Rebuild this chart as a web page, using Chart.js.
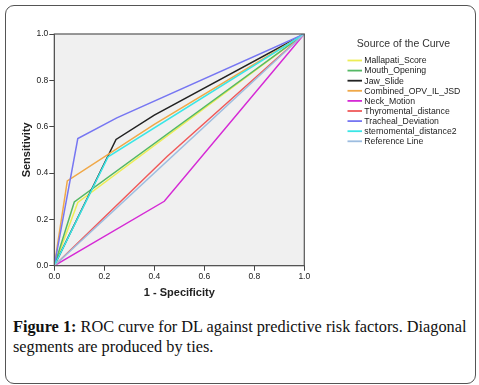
<!DOCTYPE html>
<html>
<head>
<meta charset="utf-8">
<script src="https://cdn.jsdelivr.net/npm/chart.js@4.4.1/dist/chart.umd.min.js"></script>
<style>
  html, body { margin: 0; padding: 0; background: #fff; width: 479px; height: 385px; overflow: hidden; }
  #frame { position: absolute; left: 5px; top: 5px; width: 471px; height: 379px; border: 1.5px solid #555; border-radius: 9px; box-sizing: border-box; }
  #c { position: absolute; left: 0; top: 0; }
  #caption { position: absolute; left: 13px; top: 317px; width: 464px; font-family: "Liberation Serif", "DejaVu Serif", serif; font-size: 16.3px; line-height: 20px; color: #111; }
  #caption b { font-weight: bold; }
</style>
</head>
<body>
<div id="frame"></div>
<canvas id="c" width="479" height="310"></canvas>
<div id="caption"><b>Figure 1:</b> ROC curve for DL against predictive risk factors. Diagonal segments are produced by ties.</div>
<script>
// Series names (legend order)
const seriesNames = ["Mallapati_Score", "Mouth_Opening", "Jaw_Slide", "Combined_OPV_IL_JSD", "Neck_Motion", "Thyromental_distance", "Tracheal_Deviation", "sternomental_distance2", "Reference Line"];

// 1 - Specificity (x) and Sensitivity (y) per curve
const mallapatiX   = [0, 0.094, 1];
const mallapatiY   = [0, 0.273, 1];
const mouthX       = [0, 0.080, 1];
const mouthY       = [0, 0.275, 1];
const jawX         = [0, 0.247, 0.40, 1];
const jawY         = [0, 0.545, 0.650, 1];
const combinedX    = [0, 0.052, 0.40, 1];
const combinedY    = [0, 0.366, 0.610, 1];
const neckX        = [0, 0.440, 1];
const neckY        = [0, 0.278, 1];
const thyroX       = [0, 0.45, 1];
const thyroY       = [0, 0.47, 1];
const trachealX    = [0, 0.094, 0.25, 1];
const trachealY    = [0, 0.549, 0.638, 1];
const sternoX      = [0, 0.215, 1];
const sternoY      = [0, 0.470, 1];
const referenceX   = [0, 1];
const referenceY   = [0, 1];

// Axis ticks
const tickValues = [0, 0.2, 0.4, 0.6, 0.8, 1.0];
const tickLabels = ["0.0", "0.2", "0.4", "0.6", "0.8", "1.0"];

const seriesColors = ["#eded55", "#55b865", "#222222", "#f0a848", "#d52ad5", "#f05a5a", "#7676f2", "#3ae6e6", "#9dbde0"];
const xs = [mallapatiX, mouthX, jawX, combinedX, neckX, thyroX, trachealX, sternoX, referenceX];
const ys = [mallapatiY, mouthY, jawY, combinedY, neckY, thyroY, trachealY, sternoY, referenceY];

const datasets = seriesNames.map((name, i) => ({
  label: name,
  data: xs[i].map((x, j) => ({ x: x, y: ys[i][j] })),
  borderColor: seriesColors[i],
  backgroundColor: seriesColors[i],
  borderWidth: 1.5,
  pointRadius: 0,
  tension: 0,
  fill: false,
  order: 9 - i
}));

const plotBg = {
  id: 'plotBg',
  beforeDraw(chart) {
    const { ctx, chartArea: a } = chart;
    ctx.save();
    ctx.fillStyle = '#f0f0f0';
    ctx.fillRect(a.left, a.top, a.right - a.left, a.bottom - a.top);
    ctx.restore();
  },
  afterDatasetsDraw(chart) {
    const { ctx, chartArea: a } = chart;
    ctx.save();
    ctx.strokeStyle = '#555';
    ctx.lineWidth = 1.2;
    ctx.strokeRect(a.left, a.top, a.right - a.left, a.bottom - a.top);
    ctx.restore();
  },
  afterDraw(chart) {
    const ctx = chart.ctx;
    ctx.save();
    ctx.fillStyle = '#333';
    ctx.font = '10.5px "Liberation Sans", Arial, sans-serif';
    ctx.textAlign = 'center';
    ctx.textBaseline = 'middle';
    ctx.fillText('Source of the Curve', 403.5, 44.5);
    ctx.font = '8.7px "Liberation Sans", Arial, sans-serif';
    ctx.textAlign = 'left';
    chart.data.datasets.forEach((ds, i) => {
      const y = 60.5 + i * 10.1;
      ctx.strokeStyle = ds.borderColor;
      ctx.lineWidth = 1.8;
      ctx.beginPath();
      ctx.moveTo(347.5, y);
      ctx.lineTo(362, y);
      ctx.stroke();
      ctx.fillStyle = '#222';
      ctx.fillText(ds.label, 364.3, y + 0.5);
    });
    ctx.restore();
  }
};

new Chart(document.getElementById('c'), {
  type: 'line',
  data: { datasets: datasets },
  options: {
    responsive: false,
    animation: false,
    layout: { padding: { left: 0, right: 174.7, top: 34, bottom: 0 } },
    plugins: { legend: { display: false }, tooltip: { enabled: false } },
    scales: {
      x: {
        type: 'linear', min: 0, max: 1,
        afterBuildTicks(scale) { scale.ticks = tickValues.map(v => ({ value: v })); },
        afterFit(scale) { scale.height = 44.3; },
        ticks: {
          callback: (v, i) => tickLabels[i],
          color: '#222', padding: 1, maxRotation: 0, autoSkip: false,
          font: { family: '"Liberation Sans", Arial, sans-serif', size: 8.5 }
        },
        grid: { drawOnChartArea: false, drawTicks: true, tickLength: 5, color: '#444' },
        border: { display: true, color: '#555' },
        title: {
          display: true, text: '1 - Specificity', color: '#222',
          font: { family: '"Liberation Sans", Arial, sans-serif', size: 11, weight: 'bold' },
          padding: { top: 0, bottom: 10 }
        }
      },
      y: {
        type: 'linear', min: 0, max: 1,
        afterBuildTicks(scale) { scale.ticks = tickValues.map(v => ({ value: v })); },
        afterFit(scale) { scale.width = 54.3; },
        ticks: {
          callback: (v, i) => tickLabels[i],
          color: '#222', padding: 1, autoSkip: false,
          font: { family: '"Liberation Sans", Arial, sans-serif', size: 8.5 }
        },
        grid: { drawOnChartArea: false, drawTicks: true, tickLength: 5, color: '#444' },
        border: { display: true, color: '#555' },
        title: {
          display: true, text: 'Sensitivity', color: '#222',
          font: { family: '"Liberation Sans", Arial, sans-serif', size: 11, weight: 'bold' },
          padding: { top: 20, bottom: 0 }
        }
      }
    }
  },
  plugins: [plotBg]
});
</script>
</body>
</html>
